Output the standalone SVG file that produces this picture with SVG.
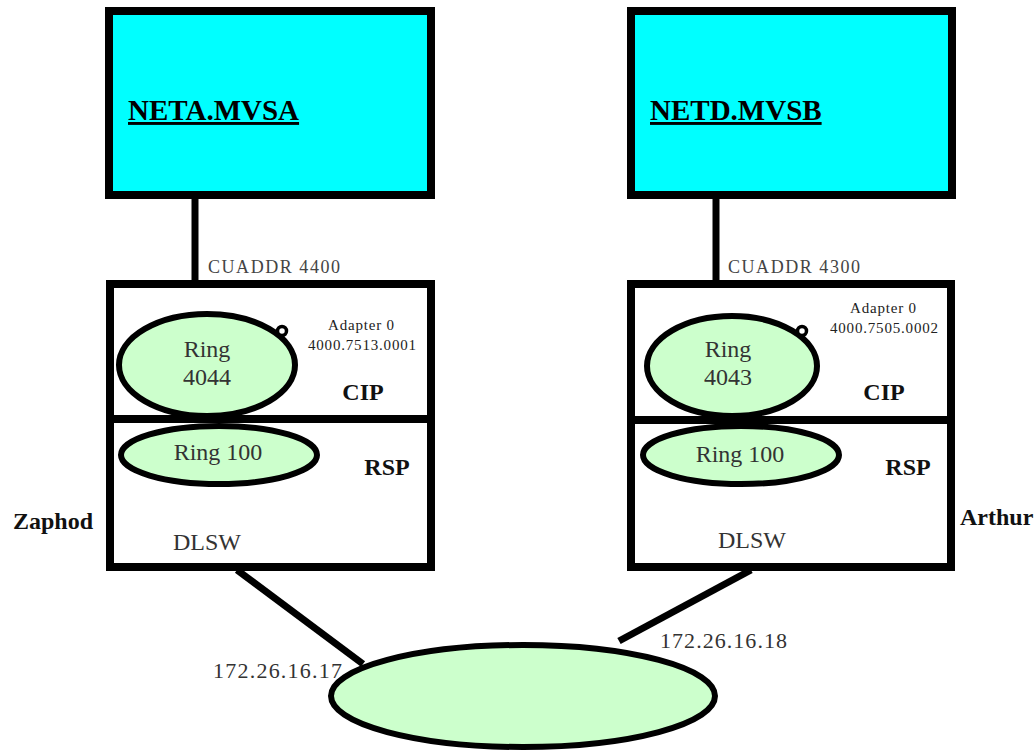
<svg xmlns="http://www.w3.org/2000/svg" width="1036" height="753" viewBox="0 0 1036 753">
<style>
.host{fill:#00FFFF;stroke:#000;stroke-width:8}
.box{fill:#fff;stroke:#000;stroke-width:8}
.ring{fill:#CCFFCC;stroke:#000;stroke-width:6}
.port{fill:#fff;stroke:#000;stroke-width:3.5}
.conn{stroke:#000;stroke-width:7;fill:none}
text{font-family:"Liberation Serif","Times New Roman",serif}
.hn{font-size:29px;font-weight:bold;text-decoration:underline;fill:#000}
.lbl{font-size:24px;fill:#333}
.bl{font-size:24px;font-weight:bold;fill:#111}
.cu{font-size:18px;fill:#444}
.ad{font-size:15px;fill:#222}
.ip{font-size:22px;fill:#333}
</style>
<rect width="1036" height="753" fill="#fff"/>
<g id="connectors">
<line class="conn" x1="195" y1="195" x2="195" y2="284"/>
<line class="conn" x1="716" y1="195" x2="716" y2="284"/>
<line class="conn" x1="237" y1="570" x2="363" y2="664"/>
<line class="conn" x1="751" y1="570" x2="619" y2="641"/>
</g>
<g id="neta-mvsa">
<rect class="host" x="109" y="11" width="322" height="184"/>
<text class="hn" x="128" y="120">NETA.MVSA</text>
</g>
<g id="netd-mvsb">
<rect class="host" x="631" y="11" width="321" height="184"/>
<text class="hn" x="650" y="120">NETD.MVSB</text>
</g>
<text class="cu" x="208" y="273" textLength="132">CUADDR 4400</text>
<text class="cu" x="728" y="273" textLength="132">CUADDR 4300</text>
<g id="zaphod">
<rect class="box" x="110" y="284" width="321" height="283"/>
<line stroke="#000" stroke-width="8" x1="110" y1="419" x2="431" y2="419"/>
<ellipse class="ring" cx="207" cy="365" rx="88" ry="51"/>
<circle class="port" cx="282" cy="331" r="4.5"/>
<text class="lbl" x="207" y="357" text-anchor="middle">Ring</text>
<text class="lbl" x="207" y="385" text-anchor="middle">4044</text>
<text class="ad" x="361" y="330" text-anchor="middle" textLength="66">Adapter 0</text>
<text class="ad" x="362" y="350" text-anchor="middle" textLength="108">4000.7513.0001</text>
<text class="bl" x="363" y="400" text-anchor="middle">CIP</text>
<ellipse class="ring" cx="219" cy="455" rx="98" ry="29"/>
<text class="lbl" x="218" y="460" text-anchor="middle">Ring 100</text>
<text class="bl" x="387" y="475" text-anchor="middle">RSP</text>
<text class="lbl" x="173" y="550">DLSW</text>
<text class="bl" x="13" y="529">Zaphod</text>
</g>
<g id="arthur">
<rect class="box" x="631" y="284" width="320" height="283"/>
<line stroke="#000" stroke-width="8" x1="631" y1="420" x2="951" y2="420"/>
<ellipse class="ring" cx="732" cy="366" rx="85" ry="50"/>
<circle class="port" cx="802" cy="331" r="4.5"/>
<text class="lbl" x="728" y="357" text-anchor="middle">Ring</text>
<text class="lbl" x="728" y="385" text-anchor="middle">4043</text>
<text class="ad" x="883" y="313" text-anchor="middle" textLength="66">Adapter 0</text>
<text class="ad" x="884" y="333" text-anchor="middle" textLength="108">4000.7505.0002</text>
<text class="bl" x="884" y="400" text-anchor="middle">CIP</text>
<ellipse class="ring" cx="741" cy="455" rx="98" ry="29"/>
<text class="lbl" x="740" y="462" text-anchor="middle">Ring 100</text>
<text class="bl" x="908" y="475" text-anchor="middle">RSP</text>
<text class="lbl" x="718" y="548">DLSW</text>
<text class="bl" x="960" y="525">Arthur</text>
</g>
<g id="ip-network">
<ellipse class="ring" cx="523" cy="696" rx="192" ry="51"/>
<text class="ip" x="213" y="678" textLength="129">172.26.16.17</text>
<text class="ip" x="660" y="648" textLength="127">172.26.16.18</text>
</g>
</svg>
